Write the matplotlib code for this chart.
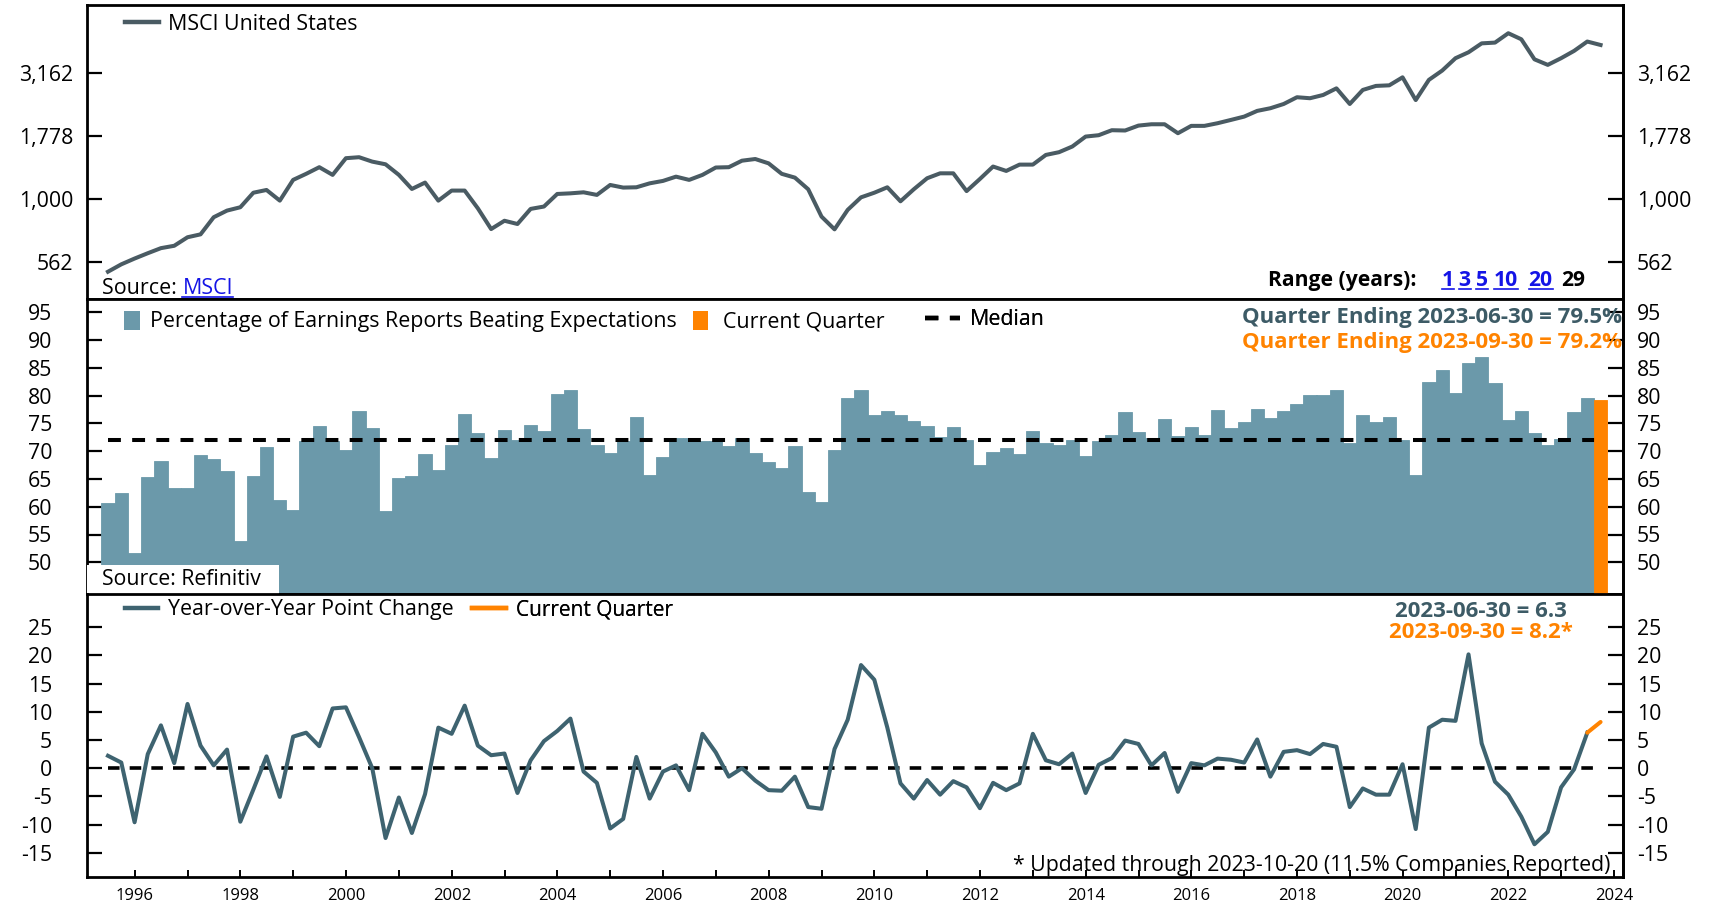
import numpy as np
import pandas as pd
import matplotlib
matplotlib.use("Agg")
import matplotlib.pyplot as plt
import matplotlib.dates as mdates
from matplotlib.lines import Line2D
from matplotlib.patches import Patch, Rectangle
from matplotlib.ticker import FixedLocator, FuncFormatter, NullLocator

plt.rcParams['font.family'] = ['Open Sans', 'DejaVu Sans']

# ---------------- data ----------------
try:
    quarter_ends = pd.date_range('1995-06-30', '2023-09-30', freq='QE')
except ValueError:
    quarter_ends = pd.date_range('1995-06-30', '2023-09-30', freq='Q')

msci_us = [516, 552, 582, 611, 640, 654, 707, 726, 849, 902,
           930, 1062, 1089, 988, 1194, 1262, 1341, 1250, 1456, 1469,
           1411, 1377, 1250, 1099, 1165, 988, 1083, 1083, 921, 762,
           822, 798, 916, 936, 1050, 1056, 1066, 1041, 1140, 1113,
           1116, 1157, 1183, 1230, 1194, 1250, 1337, 1341, 1423, 1445,
           1389, 1262, 1219, 1096, 854, 760, 908, 1018, 1062, 1116,
           982, 1096, 1212, 1268, 1268, 1078, 1204, 1349, 1296, 1373,
           1373, 1500, 1538, 1620, 1774, 1796, 1880, 1875, 1961, 1985,
           1985, 1829, 1956, 1956, 2004, 2065, 2129, 2243, 2298, 2389,
           2541, 2518, 2594, 2756, 2389, 2716, 2818, 2833, 3048, 2476,
           2978, 3242, 3630, 3832, 4157, 4186, 4560, 4315, 3593, 3415,
           3630, 3881, 4227, 4096]

beat_pct = [60.6, 62.5, 51.7, 65.3, 68.3, 63.3, 63.3, 69.3, 68.6, 66.5,
            53.9, 65.5, 70.8, 61.3, 59.5, 71.8, 74.6, 71.8, 70.2, 77.2,
            74.2, 59.3, 65.1, 65.6, 69.4, 66.6, 71.2, 76.7, 73.3, 68.8,
            73.8, 72.1, 74.7, 73.6, 80.3, 81.0, 74.0, 71.1, 69.6, 71.9,
            76.2, 65.7, 69.0, 72.4, 72.4, 71.8, 71.8, 71.0, 72.4, 69.6,
            68.0, 66.9, 70.9, 62.7, 60.9, 70.2, 79.6, 81.0, 76.5, 77.3,
            76.6, 75.5, 74.5, 72.5, 74.4, 72.1, 67.5, 69.9, 70.6, 69.4,
            73.6, 71.4, 71.2, 72.1, 69.1, 71.9, 73.0, 77.0, 73.4, 72.4,
            75.8, 72.7, 74.3, 72.9, 77.5, 74.2, 75.2, 77.6, 75.9, 77.2,
            78.4, 80.1, 80.1, 81.0, 71.4, 76.5, 75.3, 76.2, 72.1, 65.7,
            82.5, 84.7, 80.5, 85.9, 86.9, 82.3, 75.7, 77.2, 73.3, 71.1,
            72.2, 77.1, 79.5, 79.2]

yoy_change = [2.2, 1.0, -9.6, 2.5, 7.6, 0.9, 11.4, 4.0, 0.5, 3.3,
              -9.5, -3.8, 2.1, -5.1, 5.6, 6.3, 3.9, 10.6, 10.8, 5.5,
              0.0, -12.4, -5.2, -11.5, -4.6, 7.2, 6.1, 11.1, 4.0, 2.3,
              2.6, -4.4, 1.4, 4.8, 6.6, 8.8, -0.6, -2.6, -10.7, -9.0,
              2.0, -5.4, -0.6, 0.5, -3.9, 6.1, 2.8, -1.5, 0.0, -2.2,
              -3.9, -4.0, -1.5, -6.9, -7.2, 3.4, 8.6, 18.3, 15.7, 7.2,
              -2.7, -5.4, -2.1, -4.7, -2.3, -3.4, -7.1, -2.6, -3.9, -2.7,
              6.1, 1.4, 0.7, 2.6, -4.4, 0.6, 1.8, 4.9, 4.3, 0.5,
              2.7, -4.2, 0.9, 0.5, 1.7, 1.5, 1.0, 5.1, -1.5, 2.9,
              3.2, 2.5, 4.3, 3.8, -6.9, -3.6, -4.7, -4.7, 0.7, -10.8,
              7.2, 8.6, 8.4, 20.2, 4.4, -2.4, -4.7, -8.6, -13.5, -11.3,
              -3.4, -0.2, 6.3, 8.2]

median_beat = 72.1
msci_ticks = [562, 1000, 1778, 3162]
msci_tick_labels = ['562', '1,000', '1,778', '3,162']
pct_ticks = [50, 55, 60, 65, 70, 75, 80, 85, 90, 95]
yoy_ticks = [-15, -10, -5, 0, 5, 10, 15, 20, 25]

# ---------------- style ----------------
BAR = '#6b99aa'
SLATE = '#3d5b66'
LINE_TOP = '#4a5b63'
LINE_YOY = '#3e6370'
ORANGE = '#ff8300'
LINK = '#1414e6'

W, H = 1709, 908
fig = plt.figure(figsize=(W / 100, H / 100), dpi=100)

def axes_px(top, bottom, left=87, right=1623):
    return [left / W, 1 - bottom / H, (right - left) / W, (bottom - top) / H]

ax1 = fig.add_axes(axes_px(5, 298.5))
ax2 = fig.add_axes(axes_px(298.5, 593.5))
ax3 = fig.add_axes(axes_px(593.5, 877))

x = mdates.date2num(quarter_ends.to_pydatetime())
xmin = mdates.date2num(pd.Timestamp('1995-02-05').to_pydatetime())
xmax = mdates.date2num(pd.Timestamp('2024-03-03').to_pydatetime())
bar_w = 92

for ax in (ax1, ax2, ax3):
    ax.set_xlim(xmin, xmax)
    for s in ax.spines.values():
        s.set_linewidth(2.0)
        s.set_color('black')
    ax.set_facecolor('white')

TICK_FS = 15.3

def style_y(ax, ticks, labels, left_pad, fmt_fs=TICK_FS):
    ax.yaxis.set_major_locator(FixedLocator(ticks))
    ax.yaxis.set_minor_locator(NullLocator())
    ax.set_yticklabels(labels)
    ax.tick_params(axis='y', which='both', direction='in', length=11, width=1.6,
                   labelsize=fmt_fs, pad=left_pad, left=True, right=False)
    sec = ax.secondary_yaxis('right')
    sec.yaxis.set_major_locator(FixedLocator(ticks))
    sec.yaxis.set_minor_locator(NullLocator())
    sec.set_yticklabels(labels)
    sec.tick_params(axis='y', which='both', direction='in', length=11, width=1.6,
                    labelsize=fmt_fs, pad=10)
    sec.spines['right'].set_linewidth(2.0)

# ---------------- top panel ----------------
ax1.set_yscale('log')
ax1.plot(x, msci_us, color=LINE_TOP, lw=2.9, solid_joinstyle='round', zorder=3)
ax1.set_ylim(404, 5902)
style_y(ax1, msci_ticks, msci_tick_labels, 10)
ax1.xaxis.set_major_locator(NullLocator())
ax1.xaxis.set_minor_locator(NullLocator())

leg1 = ax1.legend(handles=[Line2D([], [], color=LINE_TOP, lw=3.2)], labels=['MSCI United States'],
                  loc='center left', bbox_to_anchor=(0.0247, 0.935), frameon=False,
                  fontsize=15.4, handlelength=1.6, handletextpad=0.42, borderpad=0, borderaxespad=0)

t_src = ax1.text(0.0098, 0.034, 'Source: ', transform=ax1.transAxes, fontsize=15.4, va='center', ha='left')
t_msci = ax1.annotate('MSCI', xy=(1, 0), xycoords=t_src, va='bottom', ha='left', fontsize=15.4, color=LINK)

ax1.text(0.769, 0.061, 'Range (years):', transform=ax1.transAxes, fontsize=15.2,
         fontweight='bold', va='center', ha='left')
range_items = [('1', 0.882, LINK), ('3', 0.893, LINK), ('5', 0.904, LINK),
               ('10', 0.916, LINK), ('20', 0.9385, LINK), ('29', 0.960, 'black')]
range_texts = []
for s, xp, c in range_items:
    t = ax1.text(xp, 0.061, s, transform=ax1.transAxes, fontsize=15.2, fontweight='bold',
                 va='center', ha='left', color=c)
    if c == LINK:
        range_texts.append(t)

# ---------------- middle panel ----------------
ax2.bar(x[:-1], beat_pct[:-1], width=bar_w, color=BAR, linewidth=0.6, edgecolor=BAR, zorder=2)
ax2.bar(x[-1:], beat_pct[-1:], width=bar_w, color=ORANGE, linewidth=0.6, edgecolor=ORANGE, zorder=4)
ax2.hlines(median_beat, x[0], x[-1], colors='black', linestyles=(0, (3.2, 2.8)), lw=2.9, zorder=3)
ax2.set_ylim(44.38, 97.48)
style_y(ax2, pct_ticks, [str(v) for v in pct_ticks], 25)
ax2.xaxis.set_major_locator(NullLocator())
ax2.xaxis.set_minor_locator(NullLocator())

def one_legend(ax, handle, label, xa, ya, fs, hl, hh=0.7, pad=0.5):
    lg = ax.legend(handles=[handle], labels=[label], loc='center left', bbox_to_anchor=(xa, ya),
                   frameon=False, fontsize=fs, handlelength=hl, handleheight=hh,
                   handletextpad=pad, borderpad=0, borderaxespad=0)
    ax.add_artist(lg)
    return lg

one_legend(ax2, Patch(facecolor=BAR, edgecolor='none'), 'Percentage of Earnings Reports Beating Expectations',
           0.0241, 0.922, 15.4, 0.76, 1.0, 0.46)
one_legend(ax2, Patch(facecolor=ORANGE, edgecolor='none'), 'Current Quarter',
           0.3945, 0.922, 15.4, 0.72, 1.0, 0.68)
one_legend(ax2, Line2D([], [], color='black', lw=3.2, linestyle=(0, (3.0, 2.6))), 'Median',
           0.5456, 0.928, 15.4, 1.65, 0.7, 0.45)

ax2.text(0.9993, 0.935, 'Quarter Ending 2023-06-30 = 79.5%', transform=ax2.transAxes,
         ha='right', va='center', fontsize=16.0, fontweight='bold', color=SLATE, zorder=6)
ax2.text(0.9993, 0.850, 'Quarter Ending 2023-09-30 = 79.2%', transform=ax2.transAxes,
         ha='right', va='center', fontsize=16.0, fontweight='bold', color=ORANGE, zorder=6)

ax2.add_patch(Rectangle((0, 0), 0.125, 0.095, transform=ax2.transAxes, facecolor='white',
                        edgecolor='none', zorder=5))
ax2.text(0.0098, 0.047, 'Source: Refinitiv', transform=ax2.transAxes, fontsize=15.3,
         va='center', ha='left', zorder=6)

# ---------------- bottom panel ----------------
ax3.hlines(0, x[0], x[-1], colors='black', linestyles=(0, (3.2, 2.8)), lw=2.6, zorder=2)
ax3.plot(x[:-1], yoy_change[:-1], color=LINE_YOY, lw=2.9, solid_joinstyle='round', zorder=3)
ax3.plot(x[-2:], yoy_change[-2:], color=ORANGE, lw=2.9, solid_capstyle='round', zorder=4)
ax3.set_ylim(-19.31, 31.0)
style_y(ax3, yoy_ticks, [str(v) for v in yoy_ticks], 25)

ax3.xaxis.set_major_locator(mdates.YearLocator(1))
ax3.xaxis.set_minor_locator(NullLocator())
def year_fmt(v, p):
    yr = mdates.num2date(v).year
    return str(yr) if yr % 2 == 0 else ''
ax3.xaxis.set_major_formatter(FuncFormatter(year_fmt))
ax3.tick_params(axis='x', direction='in', length=5, width=1.4, labelsize=12.0, pad=8)

one_legend(ax3, Line2D([], [], color=LINE_YOY, lw=3.2), 'Year-over-Year Point Change',
           0.0247, 0.943, 15.4, 1.55, 0.7, 0.45)
one_legend(ax3, Line2D([], [], color=ORANGE, lw=3.2), 'Current Quarter',
           0.2507, 0.943, 15.0, 1.65, 0.7, 0.45)

ax3.text(0.9076, 0.936, '2023-06-30 = 6.3', transform=ax3.transAxes, ha='center', va='center',
         fontsize=16.0, fontweight='bold', color=SLATE)
ax3.text(0.9076, 0.862, '2023-09-30 = 8.2*', transform=ax3.transAxes, ha='center', va='center',
         fontsize=16.0, fontweight='bold', color=ORANGE)
ax3.text(0.9915, 0.042, '* Updated through 2023-10-20 (11.5% Companies Reported)', transform=ax3.transAxes,
         ha='right', va='center', fontsize=15.3)

# ---------------- underline links ----------------
fig.canvas.draw()
inv = fig.transFigure.inverted()
def underline(t, color, dy=2.5):
    bb = t.get_window_extent()
    (x0, y0), (x1, _) = inv.transform([(bb.x0, bb.y0 + dy), (bb.x1, bb.y0 + dy)])
    fig.add_artist(Line2D([x0, x1], [y0, y0], transform=fig.transFigure, color=color, lw=1.2))

underline(t_msci, LINK)
for t in range_texts:
    underline(t, LINK)

fig.savefig('out.png', dpi=100, facecolor='white')
